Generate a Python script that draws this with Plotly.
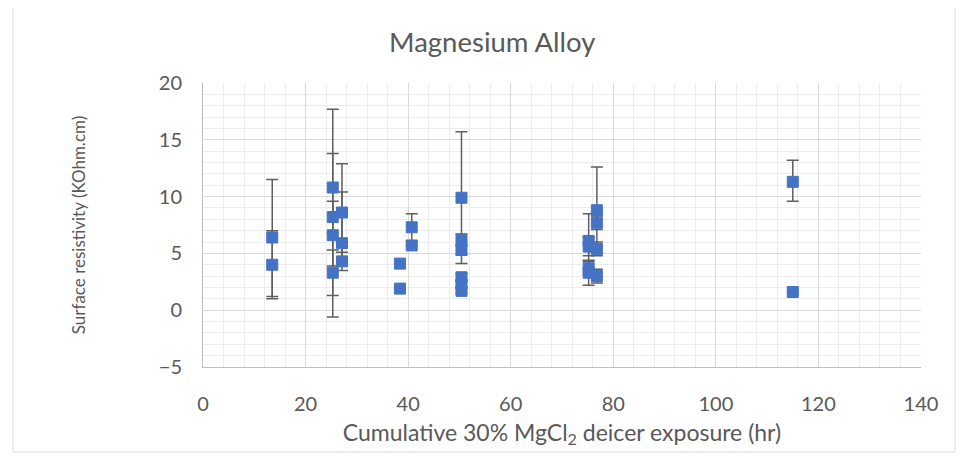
import plotly.graph_objects as go

# Cumulative 30% MgCl2 deicer exposure (hr)
exposure_hr = [13.5, 13.5,
               25.3, 25.3, 25.3, 25.3,
               27.1, 27.1, 27.1,
               38.4, 38.4,
               40.7, 40.7,
               50.4, 50.4, 50.4, 50.4, 50.4, 50.4,
               75.2, 75.2, 75.2, 75.2,
               76.8, 76.8, 76.8, 76.8,
               115.0, 115.0]
# Surface resistivity (KOhm.cm)
resistivity = [6.4, 4.0,
               10.8, 8.2, 6.6, 3.3,
               8.6, 5.9, 4.3,
               4.1, 1.9,
               7.3, 5.7,
               9.9, 6.2, 5.3, 2.9, 2.3, 1.7,
               6.1, 5.6, 3.7, 3.3,
               8.8, 7.7, 5.4, 3.0,
               11.3, 1.6]
err_plus = [5.1, 3.0,
            6.9, 1.4, 7.2, 2.0,
            4.3, 4.5, 0.8,
            0.0, 0.0,
            1.2, 0.0,
            5.8, 0.5, 0.4, 0.3, 0.3, 0.2,
            2.4, 0.8, 0.6, 1.1,
            3.8, 0.6, 0.6, 0.6,
            1.9, 0.0]
err_minus = [5.2, 3.0,
             6.9, 1.4, 7.2, 2.0,
             4.3, 1.3, 0.8,
             0.0, 0.0,
             1.2, 0.0,
             5.8, 0.5, 0.4, 0.3, 0.3, 0.2,
             2.4, 0.8, 0.6, 1.1,
             3.8, 0.6, 0.6, 0.6,
             1.7, 0.0]

title_text = "Magnesium Alloy"
x_title = "Cumulative 30% MgCl<sub>2</sub> deicer exposure (hr)"
y_title = "Surface resistivity (KOhm.cm)"

FONT = "Lato, 'Open Sans', sans-serif"
TXT = "#595959"

fig = go.Figure()
fig.add_trace(go.Scatter(
    x=exposure_hr, y=resistivity, mode="markers",
    marker=dict(symbol="square", size=11, color="#4472C4",
                line=dict(width=1, color="#4472C4")),
    error_y=dict(type="data", symmetric=False, array=err_plus,
                 arrayminus=err_minus, color="#5f5f5f",
                 thickness=1.5, width=6),
    showlegend=False,
))

fig.update_layout(
    width=957, height=455,
    paper_bgcolor="white", plot_bgcolor="white",
    margin=dict(l=195, r=44, t=75, b=96),
    font=dict(family=FONT, color=TXT),
    title=dict(text=title_text, x=0.506, xref="container", xanchor="center",
               y=0.925, yref="container", yanchor="middle",
               font=dict(size=27.5, color=TXT, family=FONT)),
    xaxis=dict(range=[0, 140], dtick=20, tick0=0,
               showgrid=True, gridcolor="#d9d9d9", gridwidth=1,
               minor=dict(dtick=4, showgrid=True, gridcolor="#ececec", gridwidth=1),
               showline=True, linecolor="#bfbfbf", linewidth=1, mirror=False,
               zeroline=False,
               ticks="outside", ticklen=19, tickcolor="rgba(0,0,0,0)",
               tickfont=dict(size=20, color=TXT),
               title=dict(text=x_title, font=dict(size=23, color=TXT), standoff=10)),
    yaxis=dict(range=[-5, 20], dtick=5, tick0=0,
               showgrid=True, gridcolor="#d9d9d9", gridwidth=1,
               minor=dict(dtick=1, showgrid=True, gridcolor="#ececec", gridwidth=1),
               showline=True, linecolor="#bfbfbf", linewidth=1,
               zeroline=False,
               ticks="outside", ticklen=16, tickcolor="rgba(0,0,0,0)",
               tickfont=dict(size=20, color=TXT),
               title=dict(text=y_title, font=dict(size=17, color=TXT), standoff=68)),
    shapes=[dict(type="rect", xref="paper", yref="paper",
                 x0=-0.2646, x1=1.0474, y0=-0.299, y1=1.2746,
                 line=dict(color="#d9d9d9", width=1), layer="below")],
)

fig.write_html("out.html")
